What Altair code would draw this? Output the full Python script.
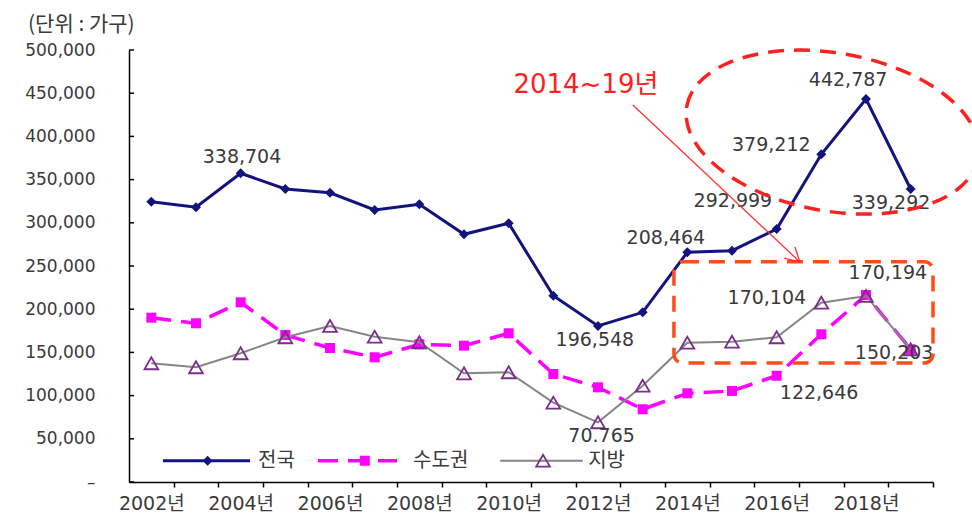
import altair as alt
import pandas as pd

# ---------------- data ----------------
years = list(range(2002, 2020))
series_names = ["전국", "수도권", "지방"]
nation = [324400, 318000, 357300, 339100, 334800, 314800, 321400, 286700, 299400,
          215600, 180600, 196400, 265900, 267700, 292800, 379300, 443300, 339100]
capital = [190200, 183700, 208000, 170100, 155100, 144300, 159400, 157800, 172100,
           125000, 109600, 84200, 102700, 105400, 123000, 171000, 216400, 153600]
regional = [137400, 132800, 149000, 167500, 180600, 168200, 161700, 125800, 127000,
            91800, 69100, 111500, 161200, 162400, 167500, 207500, 215300, 153600]

label_texts = ["338,704", "196,548", "70.765", "208,464", "292,999", "379,212",
               "442,787", "339,292", "170,194", "170,104", "150,203", "122,646"]
y_tick_values = list(range(0, 500001, 50000))
unit_text = "(단위 : 가구)"
callout_text = "2014~19년"

# ---------------- annotation anchors (data space) ----------------
label_x = [2004.03, 2011.93, 2012.08, 2013.52, 2015.02, 2015.88,
           2017.60, 2018.56, 2018.49, 2015.78, 2018.63, 2016.95]
label_y = [376500, 164400, 53000, 282400, 325200, 390000,
           465300, 322900, 242200, 212600, 149700, 103400]

W, H = 804, 432
band = W / 18
FONT = "DejaVu Sans, Noto Sans CJK KR"
KFONT = "Noto Sans CJK KR"
NAVY = "#13137f"
MAG = "#ff00ff"
GRAY = "#858585"
PURPLE = "#7b2d8b"
TXT = "#3a3a3a"

xscale = alt.Scale(domain=[2001.5, 2019.5], nice=False, zero=False)
yscale = alt.Scale(domain=[0, 500000], nice=False, zero=True)

xaxis = alt.Axis(
    values=[y + 0.5 for y in years], title=None, grid=False,
    labelExpr="((datum.value - 0.5) % 2 == 0) ? format(datum.value - 0.5, 'd') + '년' : ''",
    labelOffset=-band / 2, labelFlush=False, labelOverlap=False, labelPadding=7,
    tickSize=5, tickColor="black", tickWidth=1.5, domainColor="black", domainWidth=1.5,
    labelFont=FONT, labelFontSize=19, labelColor=TXT)
yaxis = alt.Axis(
    values=y_tick_values, title=None, grid=False, ticks=False, tickSize=0,
    labelExpr="datum.value == 0 ? '–' : format(datum.value, ',')",
    labelPadding=34, domainColor="black", domainWidth=1.5,
    labelFont=FONT, labelFontSize=17, labelColor=TXT)


def X(f="x"):
    return alt.X(f + ":Q", scale=xscale, axis=xaxis)


def Y(f="y"):
    return alt.Y(f + ":Q", scale=yscale, axis=yaxis)


def series_df(vals):
    return pd.DataFrame({"x": years, "y": vals})


nat = alt.Chart(series_df(nation))
cap = alt.Chart(series_df(capital))
reg = alt.Chart(series_df(regional))

layers = [
    nat.mark_line(color=NAVY, strokeWidth=3).encode(x=X(), y=Y()),
    nat.mark_point(shape="diamond", filled=True, color=NAVY, size=100, opacity=1).encode(x=X(), y=Y()),
    cap.mark_line(color=MAG, strokeWidth=3.5, strokeDash=[20, 10]).encode(x=X(), y=Y()),
    cap.mark_point(shape="square", filled=True, color=MAG, size=100, opacity=1).encode(x=X(), y=Y()),
    reg.mark_line(color=GRAY, strokeWidth=2).encode(x=X(), y=Y()),
    reg.mark_point(shape="triangle-up", filled=False, color=PURPLE, size=190,
                   strokeWidth=1.8, opacity=1).encode(x=X(), y=Y()),
]

# data labels
lab_df = pd.DataFrame({"x": label_x, "y": label_y, "t": label_texts})
layers.append(alt.Chart(lab_df).mark_text(font=FONT, fontSize=19, color=TXT,
                                          align="center", baseline="middle")
              .encode(x=X(), y=Y(), text="t:N"))

# dashed ellipse around 2016-2019 national values
k = 0.5523
r = 0.534
kr = round(k * r, 3)
ell_path = (f"M -1 0 C -1 {-kr} {-k} {-r} 0 {-r} C {k} {-r} 1 {-kr} 1 0 "
            f"C 1 {kr} {k} {r} 0 {r} C {-k} {r} -1 {kr} -1 0 Z")
ell_df = pd.DataFrame({"x": [2017.25], "y": [405000]})
layers.append(alt.Chart(ell_df).mark_point(shape=ell_path, size=296 ** 2, angle=10,
                                           filled=False, color="#ff2020", strokeWidth=3.5,
                                           strokeDash=[16, 10], opacity=1)
              .encode(x=X(), y=Y()))

# dashed rounded box
box_df = pd.DataFrame({"x": [2013.70], "x2": [2019.5], "y": [255000], "y2": [137700]})
layers.append(alt.Chart(box_df).mark_rect(fill="white", fillOpacity=0, stroke="#ff4d1a",
                                          strokeWidth=3.5, strokeDash=[16, 10], cornerRadius=9)
              .encode(x=X(), x2="x2:Q", y=Y(), y2="y2:Q"))

# arrow
arr_df = pd.DataFrame({"x": [2012.78], "x2": [2016.52], "y": [436300], "y2": [254600]})
layers.append(alt.Chart(arr_df).mark_rule(color="#ff3030", strokeWidth=1.3)
              .encode(x=X(), x2="x2:Q", y=Y(), y2="y2:Q"))
head_df = pd.DataFrame({"x": [2016.52], "y": [254600]})
layers.append(alt.Chart(head_df).mark_point(shape="M -1 -0.55 L 0 0 L -1 0.55", size=784,
                                            angle=43, filled=False, color="#ff3030",
                                            strokeWidth=1.3, opacity=1)
              .encode(x=X(), y=Y()))

# callout text
call_df = pd.DataFrame({"x": [2011.73], "y": [459500], "t": [callout_text]})
layers.append(alt.Chart(call_df).mark_text(font=FONT, fontSize=26, color="#ff2020",
                                           align="center", baseline="middle")
              .encode(x=X(), y=Y(), text="t:N"))

# manual legend (inside plot, bottom)
LEG_Y = 24650
leg_line = pd.DataFrame({"x": [2002.26, 2005.73, 2009.81], "x2": [2004.21, 2007.50, 2011.66],
                         "y": [LEG_Y] * 3})
leg_mark_x = [2003.26, 2006.78, 2010.77]
leg_text_x = [2004.39, 2007.86, 2011.78]
layers.append(alt.Chart(leg_line.iloc[[0]]).mark_rule(color=NAVY, strokeWidth=3)
              .encode(x=X(), x2="x2:Q", y=Y()))
layers.append(alt.Chart(leg_line.iloc[[1]]).mark_rule(color=MAG, strokeWidth=3.5, strokeDash=[20, 10])
              .encode(x=X(), x2="x2:Q", y=Y()))
layers.append(alt.Chart(leg_line.iloc[[2]]).mark_rule(color=GRAY, strokeWidth=2)
              .encode(x=X(), x2="x2:Q", y=Y()))
layers.append(alt.Chart(pd.DataFrame({"x": [leg_mark_x[0]], "y": [LEG_Y]}))
              .mark_point(shape="diamond", filled=True, color=NAVY, size=100, opacity=1)
              .encode(x=X(), y=Y()))
layers.append(alt.Chart(pd.DataFrame({"x": [leg_mark_x[1]], "y": [LEG_Y]}))
              .mark_point(shape="square", filled=True, color=MAG, size=100, opacity=1)
              .encode(x=X(), y=Y()))
layers.append(alt.Chart(pd.DataFrame({"x": [leg_mark_x[2]], "y": [LEG_Y]}))
              .mark_point(shape="triangle-up", filled=False, color=PURPLE, size=190,
                          strokeWidth=1.8, opacity=1)
              .encode(x=X(), y=Y()))
leg_txt = pd.DataFrame({"x": leg_text_x, "y": [LEG_Y] * 3, "t": series_names})
layers.append(alt.Chart(leg_txt).mark_text(font=KFONT, fontSize=20, color=TXT,
                                           align="left", baseline="middle", dx=0)
              .encode(x=X(), y=Y(), text="t:N"))

# inward y-axis ticks
tick_df = pd.DataFrame({"y": y_tick_values})
layers.append(alt.Chart(tick_df).mark_rule(color="black", strokeWidth=1.5)
              .encode(y=Y(), x=alt.value(0), x2=alt.value(5)))

chart = alt.layer(*layers).properties(
    width=W, height=H,
    title=alt.TitleParams(unit_text, anchor="start", frame="group", dx=-101, offset=6,
                          font=KFONT, fontSize=21, fontWeight="normal", color=TXT),
    padding={"left": 129, "top": 50, "right": 39, "bottom": 31},
    autosize=alt.AutoSizeParams(type="none"),
).configure_view(stroke=None)

chart.save("out.html", embed_options={"renderer": "svg", "actions": False})
